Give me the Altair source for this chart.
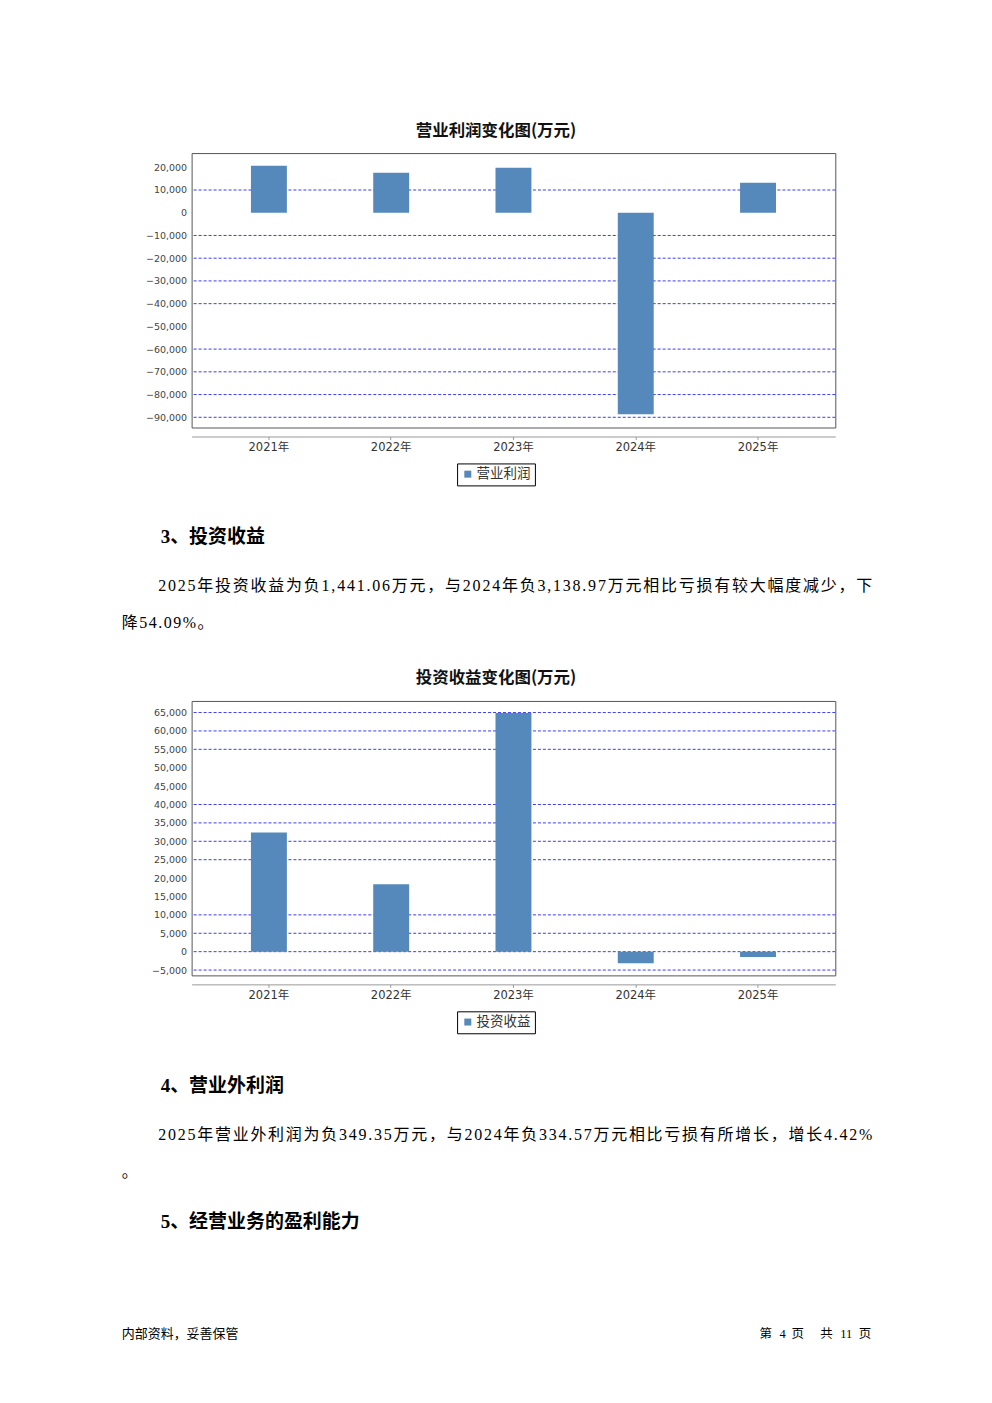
import altair as alt
import pandas as pd

# ---------------- data ----------------
years = ["2021年", "2022年", "2023年", "2024年", "2025年"]
op_profit = [20700, 17600, 19800, -88700, 13200]          # 营业利润 (万元)
inv_income = [32400, 18300, 64900, -3138.97, -1441.06]   # 投资收益 (万元)
op_ticks = [20000, 10000, 0, -10000, -20000, -30000, -40000, -50000,
            -60000, -70000, -80000, -90000]
op_grid = [10000, -10000, -20000, -30000, -40000, -60000, -70000, -80000, -90000]
inv_ticks = [65000, 60000, 55000, 50000, 45000, 40000, 35000, 30000, 25000,
             20000, 15000, 10000, 5000, 0, -5000]
inv_grid = [65000, 60000, 55000, 40000, 35000, 30000, 25000, 10000, 5000, 0, -5000]
op_domain = [-94500, 26250]
inv_domain = [-6450, 68150]

# ---------------- layout constants ----------------
OX = 191          # page x of plot left edge
W = 645
H1, H2, H3, H4 = 275, 274, 275, 370
TOP1 = 152
TOP2 = TOP1 + H1
TOP3 = TOP2 + H2
TOP4 = TOP3 + H3

CJK = "Noto Sans CJK SC"
AXF = "DejaVu Sans, Noto Sans CJK SC"
BODY = "Liberation Serif, Noto Sans CJK SC"
BAR = "#5589bb"
GRID = "#3b3bff"
NOFRAME = alt.ViewBackground(stroke="transparent", strokeWidth=0)


def bar_chart(values, series, ticks, grid, domain, title, height):
    df = pd.DataFrame({"year": years, "value": values, "series": series})
    gdf = pd.DataFrame({"g": grid})
    yscale = alt.Scale(domain=domain, nice=False, zero=False)
    xscale = alt.Scale(domain=years, paddingInner=0.706, paddingOuter=0.485)
    yaxis = alt.Axis(title=None, values=ticks, format=",.0f", grid=False,
                     domain=False, ticks=False, labelFont=AXF,
                     labelFontSize=9.5, labelColor="#444", labelPadding=5)
    gl = alt.Chart(gdf).mark_rule(color=GRID, strokeDash=[3, 2], strokeWidth=1).encode(
        y=alt.Y("g:Q", scale=yscale, axis=yaxis))
    bars = alt.Chart(df).mark_bar(size=36).encode(
        x=alt.X("year:N", scale=xscale, sort=years,
                axis=alt.Axis(title=None, labelAngle=0, offset=9,
                              domainColor="#999", tickColor="#999", tickSize=3,
                              labelFont=AXF, labelFontSize=11.5,
                              labelColor="#333", labelPadding=2)),
        y=alt.Y("value:Q", scale=yscale, axis=yaxis),
        y2=alt.datum(0),
        color=alt.Color("series:N", scale=alt.Scale(range=[BAR]),
                        legend=alt.Legend(title=None, orient="none",
                                          legendX=266, legendY=311,
                                          direction="horizontal",
                                          strokeColor="black", padding=4,
                                          fillColor="white", cornerRadius=0,
                                          symbolType="square", symbolSize=49,
                                          symbolStrokeWidth=0,
                                          labelFont=CJK, labelFontSize=13.5,
                                          labelColor="#333", labelOffset=2)),
    )
    return alt.layer(gl, bars).properties(
        width=W, height=height,
        view=alt.ViewBackground(stroke="#555", strokeWidth=1),
        title=alt.TitleParams(text=title, font=CJK, fontSize=16.5,
                              fontWeight="bold", color="#111",
                              anchor="middle", dx=-17.5, offset=14),
    )


def txt(text, px, py, top, size=16, weight="normal", font=BODY,
        align="left", color="black"):
    return alt.Chart(alt.Data(values=[{}])).mark_text(
        text=text, fontSize=size, fontWeight=weight, font=font, align=align,
        baseline="middle", color=color,
    ).encode(x=alt.value(px - OX), y=alt.value(py - top))


def char_widths(s, size):
    out = []
    for ch in s:
        if ch.isdigit():
            out.append(0.5 * size)
        elif ch in ",.":
            out.append(0.25 * size)
        elif ch == "%":
            out.append(0.833 * size)
        else:
            out.append(float(size))
    return out


def line(s, x0, py, top, x1=None, extra=0.0, size=16):
    """Lay a justified line out character by character (like the word processor)."""
    w = char_widths(s, size)
    if x1 is not None:
        extra = (x1 - x0 - sum(w)) / (len(s) - 1)
    xs, x = [], x0
    for wi in w:
        xs.append(x - OX)
        x += wi + extra
    df = pd.DataFrame({"ch": list(s), "px": xs})
    return alt.Chart(df).mark_text(
        font=BODY, fontSize=size, align="left", baseline="middle", color="black"
    ).encode(x=alt.X("px:Q", scale=None, axis=None),
             y=alt.value(py - top), text="ch:N")


anchor = alt.Chart(alt.Data(values=[{}])).mark_rule(color="white", strokeWidth=1).encode(
    x=alt.value(8 - OX), x2=alt.value(984 - OX), y=alt.value(8.5 - TOP2))

chart1 = bar_chart(op_profit, "营业利润", op_ticks, op_grid, op_domain,
                   "营业利润变化图(万元)", H1)
chart2 = bar_chart(inv_income, "投资收益", inv_ticks, inv_grid, inv_domain,
                   "投资收益变化图(万元)", H3)

# ---------------- text block between charts ----------------
t2 = [anchor]
t2.append(txt("3、投资收益", 160, 537, TOP2, size=19, weight="bold"))
t2.append(line("2025年投资收益为负1,441.06万元，与2024年负3,138.97万元相比亏损有较大幅度减少，下",
               157.5, 586, TOP2, x1=873))
t2.append(line("降54.09%。", 121, 623, TOP2, extra=1.5))
panel2 = alt.layer(*t2).properties(width=W, height=H2, view=NOFRAME)

# ---------------- text block after charts ----------------
t4 = []
t4.append(txt("4、营业外利润", 160, 1087, TOP4, size=19, weight="bold"))
t4.append(line("2025年营业外利润为负349.35万元，与2024年负334.57万元相比亏损有所增长，增长4.42%",
               157.5, 1136, TOP4, x1=873))
t4.append(txt("。", 121, 1173, TOP4))
t4.append(txt("5、经营业务的盈利能力", 160, 1223, TOP4, size=19, weight="bold"))
t4.append(txt("内部资料，妥善保管", 121, 1335, TOP4, size=13, font=CJK))
for s, px in [("第", 760), ("4", 780), ("页", 792), ("共", 821), ("11", 841), ("页", 859.5)]:
    t4.append(txt(s, px, 1335, TOP4, size=12.5, font=BODY + ", " + CJK))
panel4 = alt.layer(*t4).properties(width=W, height=H4, view=NOFRAME)

chart = alt.vconcat(chart1, panel2, chart2, panel4, spacing=0, bounds="flush").resolve_scale(
    color="independent", x="independent", y="independent"
).properties(padding=0).configure_view(stroke="transparent").configure(background="white")

chart.save("out.html", embed_options={"renderer": "svg", "actions": False})
